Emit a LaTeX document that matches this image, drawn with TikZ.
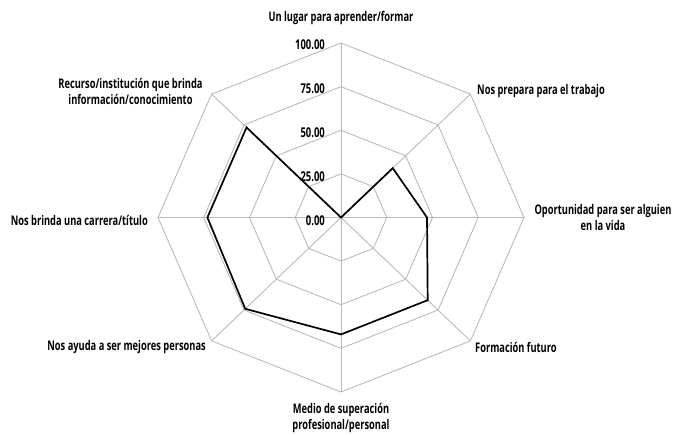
\documentclass[tikz,border=0pt]{standalone}
\usepackage{fontspec}
\setmainfont{Open Sans}[FakeStretch=0.70]
\begin{document}
\begin{tikzpicture}[x=1pt,y=-1pt,
  grid/.style={draw=black!27, line width=0.9pt},
  dataline/.style={draw=black, line width=1.7pt, line join=miter},
  lab/.style={font=\bfseries\fontsize{13.3}{16}\selectfont, inner sep=0pt, align=center},
  val/.style={font=\bfseries\fontsize{13.5}{14}\selectfont, inner sep=0pt, anchor=east}]
\useasboundingbox (0,0) rectangle (677,434);
\def\rx{1.83}\def\ry{1.745}
\coordinate (c) at (341,217.5);
% grid polygons
\foreach \v in {25,50,75,100}
  \draw[grid] ({341+\rx*\v},217.5) \foreach \a in {45,90,...,315} { -- ({341+\rx*\v*cos(\a)},{217.5-\ry*\v*sin(\a)}) } -- cycle;
% axes
\foreach \a in {0,45,...,315}
  \draw[grid] (c) -- ({341+\rx*100*cos(\a)},{217.5-\ry*100*sin(\a)});
% data points
\coordinate (p1) at ({341+\rx*0*cos(90)},{217.5-\ry*0*sin(90)});
\coordinate (p2) at ({341+\rx*40*cos(45)},{217.5-\ry*40*sin(45)});
\coordinate (p3) at ({341+\rx*47*cos(0)},{217.5-\ry*47*sin(0)});
\coordinate (p4) at ({341+\rx*67*cos(-45)},{217.5-\ry*67*sin(-45)});
\coordinate (p5) at ({341+\rx*67*cos(-90)},{217.5-\ry*67*sin(-90)});
\coordinate (p6) at ({341+\rx*74*cos(-135)},{217.5-\ry*74*sin(-135)});
\coordinate (p7) at ({341+\rx*73*cos(180)},{217.5-\ry*73*sin(180)});
\coordinate (p8) at ({341+\rx*73*cos(135)},{217.5-\ry*73*sin(135)});
\draw[dataline] (p1) -- (p2) -- (p3) -- (p4) -- (p5) -- (p6) -- (p7) -- (p8) -- cycle;
% value labels
\node[val] (v100) at (325,45) {100.00};
\node[val] (v75) at (325,89) {75.00};
\node[val] (v50) at (325,133) {50.00};
\node[val] (v25) at (325,177) {25.00};
\node[val] (v0) at (325,221) {0.00};
% category labels
\node[lab] (l1) at (341,18) {Un lugar para aprender/formar};
\node[lab, anchor=west] (l2) at (477,91) {Nos prepara para el trabajo};
\node[lab] (l3) at (603,218) {Oportunidad para ser alguien\\en la vida};
\node[lab, anchor=west] (l4) at (475,347) {Formación futuro};
\node[lab] (l5) at (341,418) {Medio de superación\\profesional/personal};
\node[lab, anchor=east] (l6) at (206,347) {Nos ayuda a ser mejores personas};
\node[lab, anchor=east] (l7) at (148,220) {Nos brinda una carrera/título};
\node[lab] (l8) at (130.5,91) {Recurso/institución que brinda\\información/conocimiento};
\end{tikzpicture}
\end{document}
